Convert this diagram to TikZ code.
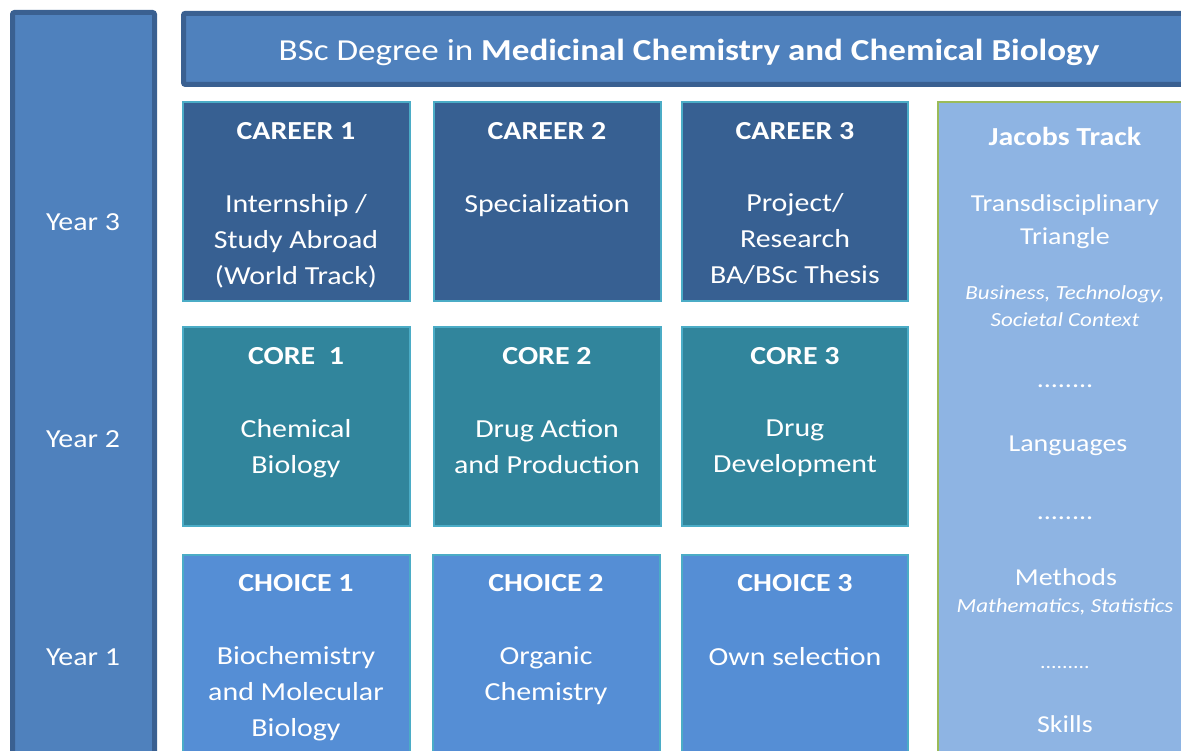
\documentclass[tikz,border=0pt]{standalone}
\usepackage{fontspec}
\setmainfont{Carlito}[FakeStretch=1.15]
\definecolor{yearfill}{HTML}{4F81BD}
\definecolor{yearline}{HTML}{3A6091}
\definecolor{careerfill}{HTML}{376092}
\definecolor{corefill}{HTML}{31859C}
\definecolor{choicefill}{HTML}{558ED5}
\definecolor{boxline}{HTML}{4BACC6}
\definecolor{jacobsfill}{HTML}{8EB4E3}
\definecolor{jacobsline}{HTML}{9BBB59}
\tikzset{
  yearbar/.style={draw=yearline, line width=5pt, fill=yearfill, rounded corners=2pt},
  cellbox/.style={draw=boxline, line width=1.8pt},
  jbox/.style={draw=jacobsline, line width=1.8pt, fill=jacobsfill},
  txt/.style={text=white, align=center, font=\fontsize{26}{36}\selectfont, inner sep=0pt},
  jtxt/.style={txt, font=\fontsize{24.3}{33}\selectfont},
  head/.style={txt, font=\fontsize{26}{34}\bfseries\selectfont},
  itx/.style={txt, font=\fontsize{20}{27}\itshape\selectfont},
}
\begin{document}
\begin{tikzpicture}[x=1pt,y=-1pt]
\useasboundingbox (0,0) rectangle (1181,751);
\clip (0,0) rectangle (1181,751);
% left year column
\draw[yearbar] (12.5,12.5) rectangle (154.5,790);
\node[txt] (y3) at (83,222) {Year 3};
\node[txt] (y2) at (83,439) {Year 2};
\node[txt] (y1) at (83,657) {Year 1};
% title bar
\draw[yearbar] (183.5,13.3) rectangle (1200,84.5);
\node[txt, font=\fontsize{30.5}{38}\selectfont] (title) at (689,52) {BSc Degree in \textbf{Medicinal Chemistry and Chemical Biology}};
% career row
\draw[cellbox, fill=careerfill] (183,102) rectangle (410,301);
\draw[cellbox, fill=careerfill] (434,102) rectangle (661,301);
\draw[cellbox, fill=careerfill] (682,102) rectangle (908,301);
\node[head] (c1h) at (296,131) {CAREER 1};
\node[txt] (c1t) at (296,241) {Internship /\\Study Abroad\\(World Track)};
\node[head] (c2h) at (547,131) {CAREER 2};
\node[txt] (c2t) at (547,206) {Specialization};
\node[head] (c3h) at (795,131) {CAREER 3};
\node[txt] (c3t) at (795,239.5) {Project/\\Research\\BA/BSc Thesis};
% core row
\draw[cellbox, fill=corefill] (183,327) rectangle (410,526);
\draw[cellbox, fill=corefill] (434,327) rectangle (661,526);
\draw[cellbox, fill=corefill] (682,327) rectangle (908,526);
\node[head] (k1h) at (296,356) {CORE\ \ 1};
\node[txt] (k1t) at (296,449) {Chemical\\Biology};
\node[head] (k2h) at (547,356) {CORE 2};
\node[txt] (k2t) at (547,447) {Drug Action\\and Production};
\node[head] (k3h) at (795,356) {CORE 3};
\node[txt] (k3t) at (795,448.5) {Drug\\Development};
% choice row
\draw[cellbox, fill=choicefill] (183,555) rectangle (410,790);
\draw[cellbox, fill=choicefill] (433,555) rectangle (660,790);
\draw[cellbox, fill=choicefill] (682,555) rectangle (908,790);
\node[head] (h1h) at (296,583) {CHOICE 1};
\node[txt] (h1t) at (296,694) {Biochemistry\\and Molecular\\Biology};
\node[head] (h2h) at (546,583) {CHOICE 2};
\node[txt] (h2t) at (546,676) {Organic\\Chemistry};
\node[head] (h3h) at (795,583) {CHOICE 3};
\node[txt] (h3t) at (795,657) {Own selection};
% jacobs track
\draw[jbox] (938,102) rectangle (1200,790);
\node[head] (jh) at (1065,136) {Jacobs Track};
\node[jtxt] (j1) at (1065,221.5) {Transdisciplinary\\Triangle};
\node[itx] (j1i) at (1065,306) {Business, Technology,\\Societal Context};
\node[jtxt] (d1) at (1065,386) {........};
\node[jtxt] (j2) at (1068,446) {Languages};
\node[jtxt] (d2) at (1065,518) {........};
\node[jtxt] (j3) at (1066,577) {Methods};
\node[itx] (j3i) at (1065,607) {Mathematics, Statistics};
\node[txt, font=\fontsize{19}{26}\selectfont] (d3) at (1065,667) {.........};
\node[jtxt] (j4) at (1065,724) {Skills};
\end{tikzpicture}
\end{document}
